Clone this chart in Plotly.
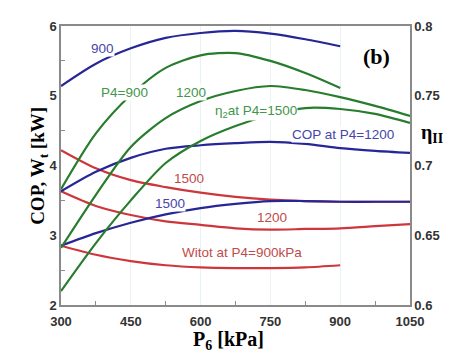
import plotly.graph_objects as go

# ---------------- data ----------------
p6 = [300, 375, 450, 525, 600, 675, 750, 825, 900, 975, 1050]
p6_900 = [300, 375, 450, 525, 600, 675, 750, 825, 900]

# COP (left axis)
cop_900 = [5.14, 5.46, 5.68, 5.83, 5.90, 5.93, 5.89, 5.81, 5.71]
cop_1200 = [3.63, 3.91, 4.11, 4.24, 4.29, 4.32, 4.34, 4.31, 4.25, 4.21, 4.18]
cop_1500 = [2.85, 3.03, 3.18, 3.30, 3.39, 3.45, 3.49, 3.49, 3.48, 3.48, 3.48]

# Wtot (left axis)
wt_900 = [2.85, 2.72, 2.63, 2.57, 2.54, 2.53, 2.53, 2.54, 2.57]
wt_1200 = [3.63, 3.42, 3.29, 3.20, 3.15, 3.10, 3.08, 3.09, 3.10, 3.13, 3.16]
wt_1500 = [4.22, 3.96, 3.79, 3.69, 3.61, 3.55, 3.51, 3.49, 3.48, 3.48, 3.48]

# eta_II (right axis)
eta_900 = [0.683, 0.723, 0.7505, 0.770, 0.779, 0.7806, 0.775, 0.7663, 0.7556]
eta_1200 = [0.641, 0.679, 0.7133, 0.734, 0.7462, 0.7534, 0.757, 0.7541, 0.749, 0.7427, 0.7355]
eta_1500 = [0.610, 0.6444, 0.675, 0.7018, 0.7176, 0.7283, 0.7362, 0.7412, 0.7405, 0.737, 0.7305]

x_ticks = [300, 450, 600, 750, 900, 1050]
y_ticks = [2, 3, 4, 5, 6]
y2_ticks = [0.6, 0.65, 0.7, 0.75, 0.8]

BLUE = "rgb(38,38,150)"
GREEN = "rgb(40,125,45)"
RED = "rgb(205,55,60)"
BLUE_T = "rgb(70,70,170)"
GREEN_T = "rgb(65,150,75)"
RED_T = "rgb(190,75,75)"

fig = go.Figure()

def add(x, y, color, axis="y"):
    fig.add_trace(go.Scatter(x=x, y=y, mode="lines", yaxis=axis,
                             line=dict(color=color, width=2.2, shape="spline", smoothing=0.8),
                             showlegend=False, hoverinfo="skip"))

add(p6, wt_1200, RED)
add(p6_900, wt_900, RED)
add(p6, wt_1500, RED)
add(p6_900, eta_900, GREEN, "y2")
add(p6, eta_1200, GREEN, "y2")
add(p6, eta_1500, GREEN, "y2")
add(p6_900, cop_900, BLUE)
add(p6, cop_1200, BLUE)
add(p6, cop_1500, BLUE)

lab_font = "Liberation Sans, Arial, sans-serif"
def label(text, x, y, color, bg=True):
    fig.add_annotation(x=x, y=y, xref="x", yref="y", text=text, showarrow=False,
                       font=dict(family=lab_font, size=13.5, color=color),
                       bgcolor="white" if bg else "rgba(0,0,0,0)", borderpad=0)

label("900", 390, 5.68, BLUE_T)
label("P4=900", 437, 5.04, GREEN_T)
label("1200", 579, 5.04, GREEN_T)
label("η<sub>2</sub>at P4=1500", 718, 4.77, GREEN_T)
label("COP at P4=1200", 906, 4.44, BLUE_T)
label("1500", 574, 3.81, RED_T, bg=False)
label("1500", 534, 3.45, BLUE_T)
label("1200", 754, 3.25, RED_T, bg=False)
label("Witot at P4=900kPa", 690, 2.75, RED_T, bg=False)

serif = "Liberation Serif, Times New Roman, serif"
fig.add_annotation(x=977, y=5.56, xref="x", yref="y", text="<b>(b)</b>", showarrow=False,
                   font=dict(family=serif, size=22, color="black"))
fig.add_annotation(x=-0.105, y=0.50, xref="paper", yref="paper", textangle=-90,
                   text="<b>COP, W<sub>t</sub> [kW]</b>", showarrow=False,
                   font=dict(family=serif, size=19, color="black"))
fig.add_annotation(x=0.481, y=-0.18, xref="paper", yref="paper",
                   text="<b>P<sub>6</sub> [kPa]</b>", showarrow=False,
                   font=dict(family=serif, size=20, color="black"))
fig.add_annotation(x=1.100, y=0.616, xref="paper", yref="paper",
                   text="<b>η<sub>II</sub></b>", showarrow=False,
                   font=dict(family=serif, size=20, color="black"))

tickfont = dict(family=lab_font, size=13, color="#333333", weight="bold")
axis_common = dict(showline=True, linecolor="#8a8a8a", linewidth=1.5, zeroline=False)

fig.update_layout(
    width=465, height=360,
    margin=dict(l=53, r=63, t=18, b=63),
    paper_bgcolor="white", plot_bgcolor="white",
    xaxis=dict(range=[300, 1050], tickvals=x_ticks, ticktext=[str(v) for v in x_ticks],
               ticks="", tickfont=tickfont, mirror=True, showgrid=True, ticklabelstandoff=4,
               gridcolor="#eaf3f3", gridwidth=1,
               minor=dict(tickvals=[375, 525, 675, 825, 975], ticks="inside", ticklen=4,
                          tickcolor="#8a8a8a", showgrid=False),
               **axis_common),
    yaxis=dict(range=[2, 6], tickvals=y_ticks, ticktext=[str(v) for v in y_ticks],
               ticks="", tickfont=tickfont, mirror=False, showgrid=False,
               minor=dict(tickvals=[2.5, 3.5, 4.5, 5.5], ticks="inside", ticklen=4,
                          tickcolor="#8a8a8a"),
               **axis_common),
    yaxis2=dict(range=[0.6, 0.8], tickvals=y2_ticks, ticktext=["0.6", "0.65", "0.7", "0.75", "0.8"],
                overlaying="y", side="right", ticks="", tickfont=tickfont, showgrid=False,
                **axis_common),
)

fig.write_html("out.html")
